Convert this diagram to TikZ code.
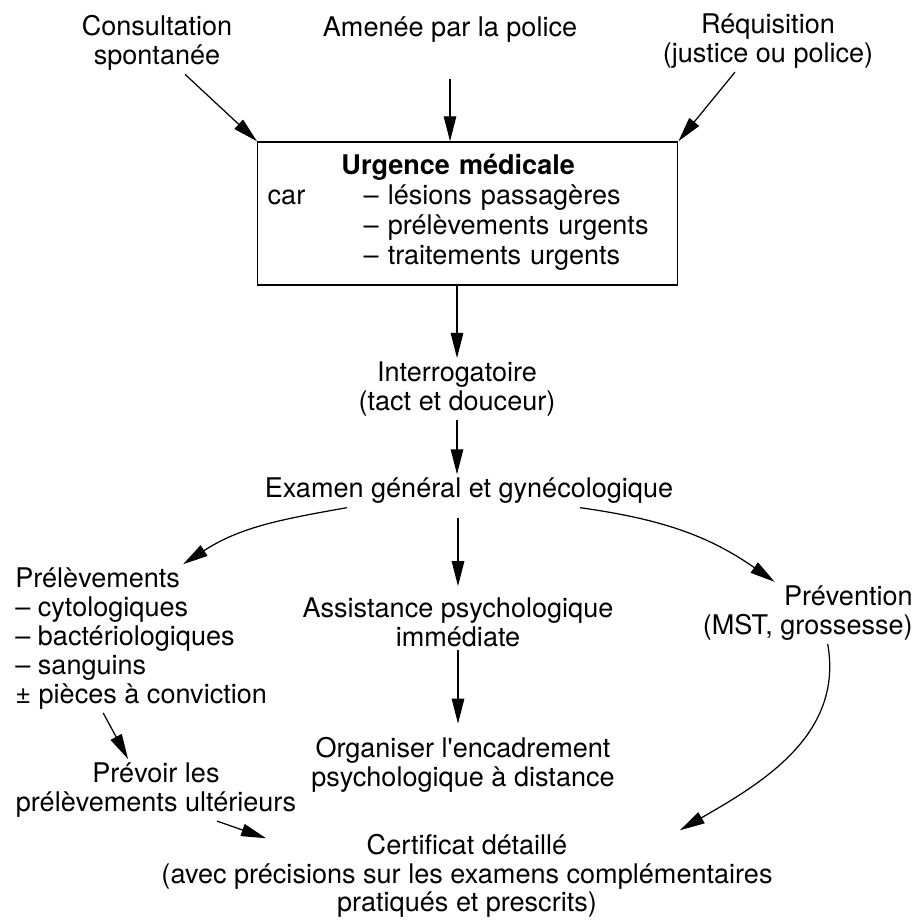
\documentclass[tikz,border=0pt]{standalone}
\usepackage{fontspec}
\setmainfont{TeX Gyre Heros}
\usetikzlibrary{arrows.meta}

\begin{document}
\begin{tikzpicture}[
	every node/.style={font=\fontsize{15.4}{16.4}\selectfont, inner sep=2pt},
	txt/.style={align=center},
	boite/.style={draw, line width=0.8pt, anchor=west, text width=8cm, inner xsep=0.2cm,
		minimum height=2.86cm, align=left, font=\fontsize{15.4}{17.1}\selectfont},
	fleche/.style={-{Triangle[length=0.5cm,width=0.25cm]}, line width=0.7pt}]
	\useasboundingbox (0,0) rectangle (18.36,18.4);

	\node[txt] (consult) at (3.14,17.54) {Consultation\\spontanée};
	\node[txt] (police) at (9.00,17.80) {Amenée par la police};
	\node[txt] (requis) at (15.36,17.58) {Réquisition\\(justice ou police)};
	\node[boite] (urgence) at (5.14,14.13) {%
		\begin{tabular}{@{}p{1.92cm}@{}l@{}}
			\multicolumn{2}{@{}c@{}}{\textbf{Urgence médicale}}\\
			car & – lésions passagères\\
			& – prélèvements urgents\\
			& – traitements urgents
		\end{tabular}};
	\node[txt] (interro) at (9.14,10.62) {Interrogatoire\\(tact et douceur)};
	\node[txt] (examen) at (9.38,8.58) {Examen général et gynécologique};
	\node[align=left, anchor=west] (prelev) at (0.23,5.63)
		{Prélèvements\\– cytologiques\\– bactériologiques\\– sanguins\\± pièces à conviction};
	\node[txt] (assist) at (9.16,5.96) {Assistance psychologique\\immédiate};
	\node[align=right, anchor=east] (prevent) at (18.33,6.14) {Prévention\\(MST, grossesse)};
	\node[txt] (organ) at (9.26,3.10) {Organiser l\textquotesingle encadrement\\psychologique à distance};
	\node[txt] (prevoir) at (3.12,2.60) {Prévoir les\\prélèvements ultérieurs};
	\node[txt] (certif) at (9.34,0.88)
		{Certificat détaillé\\(avec précisions sur les examens complémentaires\\pratiqués et prescrits)};

	\draw[fleche] ([xshift=0.56cm]consult.south) -- (urgence.north west);
	\draw[fleche, shorten <=0.64cm] (police.south) -- (police.south |- urgence.north);
	\draw[fleche] ([xshift=-0.66cm]requis.south) -- (urgence.north east);
	\draw[fleche] (urgence.south -| interro.north) -- (interro.north);
	\draw[fleche] (interro.south) -- (interro.south |- examen.north);
	\draw[fleche, shorten <=0.2cm, shorten >=0.15cm] (examen.south -| assist.north) -- (assist.north);
	\draw[fleche, shorten >=0.2cm] (assist.south) -- (assist.south |- organ.north);
	\draw[fleche] ([xshift=-2.44cm]examen.south) to[out=190,in=33] ([xshift=0.84cm]prelev.north);
	\draw[fleche] ([xshift=2.22cm]examen.south) to[out=-8,in=145] ([xshift=-0.66cm]prevent.north);
	\draw[fleche] ([xshift=-0.76cm]prelev.south) -- ([xshift=-0.56cm]prevoir.north);
	\draw[fleche] ([xshift=1.22cm]prevoir.south) -- ([xshift=2.17cm,yshift=-0.16cm]certif.north west);
	\draw[fleche] ([xshift=0.4cm]prevent.south) to[out=-80,in=30] ([xshift=-1.93cm]certif.north east);
\end{tikzpicture}
\end{document}
